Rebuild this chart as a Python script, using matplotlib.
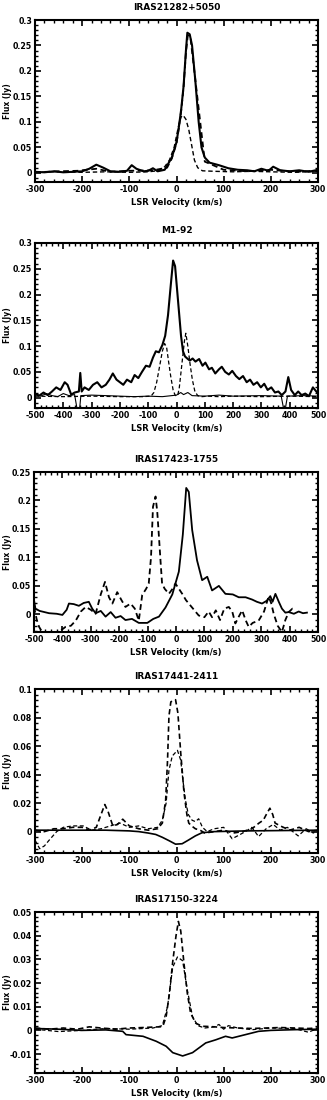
import numpy as np
import matplotlib
matplotlib.use("Agg")
import matplotlib.pyplot as plt
from matplotlib.ticker import AutoMinorLocator, FuncFormatter

plt.rcParams['axes.unicode_minus'] = False
plt.rcParams['font.family'] = 'DejaVu Sans'
plt.rcParams['font.weight'] = 'bold'

# ---- IRAS21282+5050 ----
p1_v_a = [-300, -280, -260, -240, -220, -200, -185, -170, -155, -140, -120, -105, -95, -85, -70, -60,
          -50, -40, -25, -10, -5, 0, 5, 10, 15, 20, 23, 28, 33, 40, 47, 53, 60, 70, 90, 110, 130, 150,
          165, 180, 195, 205, 220, 240, 260, 280, 300]
p1_f_a = [0.002, 0.001, 0.003, 0.001, 0.002, 0.003, 0.008, 0.016, 0.01, 0.003, 0.002, 0.004, 0.015,
          0.008, 0.003, 0.004, 0.009, 0.003, 0.006, 0.03, 0.045, 0.06, 0.09, 0.125, 0.17, 0.24, 0.275,
          0.272, 0.25, 0.18, 0.1, 0.05, 0.03, 0.02, 0.015, 0.009, 0.006, 0.005, 0.003, 0.008, 0.004,
          0.012, 0.005, 0.003, 0.005, 0.002, 0.006]
p1_v_b = [-300, -250, -210, -170, -140, -100, -50, -20, -10, -5, 0, 5, 10, 15, 20, 24, 30, 60, 100,
          150, 200, 250, 290, 300]
p1_f_b = [0.001, 0.003, 0.004, 0.008, 0.002, 0.004, 0.005, 0.01, 0.028, 0.043, 0.058, 0.088, 0.122,
          0.168, 0.236, 0.27, 0.262, 0.022, 0.006, 0.003, 0.006, 0.002, 0.004, 0.003]
p1_v_c = [-300, -250, -200, -150, -100, -60, -40, -25, -15, -5, 5, 10, 14, 20, 26, 32, 38, 45, 55,
          80, 120, 160, 200, 250, 300]
p1_f_c = [0.001, 0.002, 0.001, 0.002, 0.001, 0.002, 0.004, 0.012, 0.025, 0.05, 0.095, 0.11, 0.113,
          0.105, 0.085, 0.055, 0.025, 0.01, 0.004, 0.003, 0.002, 0.003, 0.002, 0.001, 0.003]

# ---- M1-92 ----
p2_v_a = [-500, -485, -470, -455, -440, -425, -410, -395, -385, -372, -360, -345, -340, -335, -325,
          -310, -295, -280, -265, -250, -237, -225, -212, -200, -188, -175, -160, -148, -135, -122,
          -108, -95, -83, -73, -62, -50, -40, -30, -20, -12, -5, 2, 9, 16, 23, 30, 38, 47, 57, 67, 80,
          92, 102, 115, 125, 137, 150, 160, 172, 185, 197, 210, 222, 235, 248, 260, 272, 285, 298,
          310, 322, 335, 348, 360, 372, 385, 395, 405, 418, 430, 442, 455, 468, 482, 500]
p2_f_a = [0.008, 0.004, 0.01, 0.005, 0.012, 0.02, 0.015, 0.03, 0.025, 0.006, 0.01, 0.012, 0.048,
          0.012, 0.02, 0.015, 0.025, 0.03, 0.02, 0.025, 0.035, 0.047, 0.035, 0.03, 0.025, 0.035, 0.03,
          0.044, 0.038, 0.05, 0.062, 0.06, 0.078, 0.09, 0.088, 0.102, 0.12, 0.16, 0.22, 0.266, 0.255,
          0.21, 0.165, 0.12, 0.09, 0.08, 0.076, 0.072, 0.076, 0.07, 0.075, 0.062, 0.068, 0.055, 0.058,
          0.047, 0.055, 0.06, 0.05, 0.045, 0.052, 0.042, 0.036, 0.042, 0.03, 0.035, 0.025, 0.03, 0.02,
          0.027, 0.015, 0.02, 0.01, 0.012, 0.005, 0.012, 0.04, 0.015, 0.005, 0.012, 0.005, 0.008,
          0.003, 0.02, 0.008]
p2_v_b = [-500, -400, -300, -200, -120, -90, -80, -70, -60, -50, -42, -35, -28, -20, -12, -5, 0, 5,
          10, 20, 28, 33, 40, 48, 56, 65, 75, 90, 110, 150, 200, 300, 400, 500]
p2_f_b = [0.003, 0.002, 0.003, 0.002, 0.002, 0.003, 0.01, 0.03, 0.06, 0.09, 0.105, 0.098, 0.07, 0.04,
          0.015, 0.005, 0.003, 0.006, 0.02, 0.07, 0.11, 0.125, 0.1, 0.065, 0.035, 0.012, 0.004, 0.002,
          0.003, 0.002, 0.003, 0.002, 0.003, 0.002]
p2_v_c = [-500, -480, -460, -440, -420, -400, -380, -360, -352, -342, -338, -300, -250, -200, -150,
          -100, -50, 0, 15, 25, 40, 55, 100, 150, 200, 300, 370, 378, 385, 392, 450, 500]
p2_f_c = [0.006, 0.003, 0.008, 0.004, 0.002, 0.008, 0.004, 0.006, -0.02, -0.02, 0.004, 0.005, 0.004,
          0.003, 0.002, 0.003, 0.002, 0.005, 0.01, 0.006, 0.01, 0.004, 0.003, 0.005, 0.003, 0.004,
          0.003, -0.02, -0.02, 0.003, 0.004, 0.003]

# ---- IRAS17423-1755 ----
p3_v_a = [-500, -495, -480, -447, -420, -400, -385, -377, -360, -342, -325, -307, -295, -283, -265,
          -248, -230, -213, -195, -178, -155, -131, -101, -80, -60, -37, -13, 10, 24, 36, 45, 57, 74,
          92, 110, 127, 151, 174, 200, 221, 245, 268, 285, 303, 320, 332, 340, 350, 362, 373, 385,
          397, 415, 432, 447, 461]
p3_f_a = [0.025, 0.01, 0.006, 0.002, 0.001, -0.001, 0.008, 0.019, 0.018, 0.015, 0.02, 0.022, 0.01,
          0.002, 0.006, -0.004, 0.004, -0.006, -0.003, -0.01, -0.008, -0.015, -0.015, -0.008, -0.004,
          0.012, 0.035, 0.075, 0.14, 0.222, 0.215, 0.148, 0.095, 0.06, 0.066, 0.042, 0.05, 0.036,
          0.035, 0.03, 0.03, 0.026, 0.022, 0.019, 0.024, 0.032, 0.022, 0.036, 0.022, 0.01, 0.003,
          0.004, 0.001, 0.005, 0.002, 0.003]
p3_v_b = [-500, -490, -482, -470, -450, -430, -410, -389, -370, -353, -335, -318, -300, -283, -265,
          -250, -236, -224, -207, -192, -178, -160, -145, -131, -119, -105, -96, -88, -81, -72, -66,
          -60, -54, -49, -40, -25, -12, -2, 10, 22, 35, 45, 60, 80, 100, 115, 127, 140, 155, 170, 186,
          198, 209, 220, 233, 245, 256, 270, 291, 310, 326, 335, 344, 358, 373, 385, 397, 410, 420]
p3_f_b = [0.013, -0.01, -0.022, -0.032, -0.035, -0.033, -0.03, -0.022, -0.02, -0.011, 0.005, 0.013,
          0.008, 0.001, 0.035, 0.057, 0.03, 0.019, 0.039, 0.025, 0.013, 0.019, 0.01, -0.011, 0.034,
          0.045, 0.054, 0.1, 0.189, 0.207, 0.18, 0.136, 0.09, 0.054, 0.045, 0.036, 0.045, 0.054, 0.045,
          0.036, 0.025, 0.019, 0.01, -0.002, -0.005, 0.005, -0.005, 0.007, -0.01, 0.01, 0.013, 0.005,
          -0.016, -0.005, 0.007, -0.01, -0.022, -0.015, -0.011, 0.005, 0.031, 0.02, 0.001, -0.02,
          -0.031, -0.01, 0.004, 0.01, 0.007]

# ---- IRAS17441-2411 ----
p4_v_a = [-300, -280, -260, -240, -220, -200, -185, -170, -160, -152, -145, -135, -125, -114, -100,
          -80, -60, -40, -30, -23, -19, -16, -12, -6, -2, 3, 9, 16, 22, 26, 32, 40, 50, 60, 80, 100,
          120, 140, 160, 175, 184, 192, 198, 204, 209, 220, 240, 260, 280, 300]
p4_f_a = [0.001, 0.0, 0.002, 0.002, 0.003, 0.003, 0.001, 0.003, 0.012, 0.019, 0.014, 0.004, 0.005,
          0.0087, 0.004, 0.002, 0.001, 0.002, 0.006, 0.022, 0.05, 0.081, 0.091, 0.092, 0.0925, 0.083,
          0.055, 0.027, 0.012, 0.006, 0.004, 0.002, 0.001, -0.001, 0.0, 0.001, -0.001, 0.0, 0.002,
          0.006, 0.008, 0.013, 0.0164, 0.012, 0.006, 0.004, 0.001, 0.003, 0.0, 0.001]
p4_v_b = [-300, -290, -280, -270, -254, -240, -220, -198, -180, -160, -140, -120, -100, -80, -60,
          -40, -30, -22, -16, -9, 2, 9, 14, 19, 25, 33, 40, 47, 55, 65, 80, 100, 118, 135, 146, 160,
          174, 190, 205, 220, 235, 258, 275, 290, 300]
p4_f_b = [-0.006, -0.012, -0.01, -0.006, 0.0, 0.003, 0.004, 0.004, 0.001, 0.002, 0.004, 0.006,
          0.003, 0.004, 0.002, 0.003, 0.008, 0.02, 0.043, 0.053, 0.057, 0.05, 0.035, 0.022, 0.012,
          0.008, 0.007, 0.009, 0.003, 0.0, 0.002, 0.003, -0.005, -0.002, 0.0, 0.003, -0.0035, 0.002,
          0.005, 0.001, 0.003, -0.003, 0.002, -0.001, 0.001]
p4_v_c = [-300, -200, -150, -100, -80, -60, -44, -30, -15, -2, 12, 25, 40, 54, 80, 150, 300]
p4_f_c = [0.001, 0.001, 0.001, 0.0005, 0.0, -0.001, -0.002, -0.004, -0.0065, -0.0088, -0.0085,
          -0.006, -0.003, -0.0008, 0.0, 0.0005, 0.001]

# ---- IRAS17150-3224 ----
p5_v_a = [-300, -270, -240, -210, -185, -160, -130, -100, -70, -50, -35, -29, -22, -15, -8, -1, 4, 9,
          16, 23, 30, 41, 55, 62, 80, 100, 130, 160, 190, 220, 250, 280, 300]
p5_f_a = [0.001, 0.0005, 0.001, 0.0005, 0.0015, 0.001, 0.0005, 0.001, 0.0012, 0.0014, 0.0015,
          0.0017, 0.0058, 0.0156, 0.029, 0.04, 0.046, 0.042, 0.028, 0.0156, 0.0072, 0.003, 0.0017,
          0.0017, 0.0015, 0.0012, 0.001, 0.0008, 0.001, 0.0012, 0.001, 0.0008, 0.001]
p5_v_b = [-300, -250, -200, -150, -100, -50, -30, -19, -8, 2, 13, 23, 34, 45, 60, 80, 90, 100, 110,
          130, 160, 200, 250, 280, 300]
p5_f_b = [0.0005, -0.0005, 0.0, 0.0008, 0.0005, 0.001, 0.002, 0.01, 0.0267, 0.031, 0.0294, 0.017,
          0.0058, 0.002, 0.001, 0.0015, 0.0025, 0.0005, 0.002, 0.001, 0.0003, 0.001, 0.0008, -0.0008,
          0.001]
p5_v_c = [-300, -250, -200, -150, -114, -107, -71, -43, -22, -8, 13, 34, 62, 83, 104, 118, 146, 174,
          200, 250, 300]
p5_f_c = [0.0008, 0.0005, 0.0, 0.0002, -0.0004, -0.0018, -0.0025, -0.0046, -0.0067, -0.0094, -0.0108,
          -0.0094, -0.0053, -0.004, -0.0025, -0.0032, -0.0018, -0.0004, 0.0, 0.0003, 0.0005]

titles = ['IRAS21282+5050', 'M1-92', 'IRAS17423-1755', 'IRAS17441-2411', 'IRAS17150-3224']
xlims = [(-300, 300), (-500, 500), (-500, 500), (-300, 300), (-300, 300)]
ylims = [(-0.018, 0.3), (-0.02, 0.3), (-0.031, 0.25), (-0.015, 0.1), (-0.018, 0.05)]
ytick_start = [0, 0, 0, 0, -0.01]
ysteps = [0.05, 0.05, 0.05, 0.02, 0.01]

# axes boxes in pixels: left, top, right, bottom
boxes = [(35, 20, 318, 182), (35, 243, 318, 408), (34, 472, 318, 632),
         (35, 689, 318, 853), (35, 912, 318, 1073)]

W, H = 327, 1100
fig = plt.figure(figsize=(W / 100, H / 100), dpi=100)

dash = (0, (3.2, 2.0))
panels = [
    [(p1_v_a, p1_f_a, '-', 1.5), (p1_v_b, p1_f_b, dash, 1.3), (p1_v_c, p1_f_c, dash, 1.0)],
    [(p2_v_c, p2_f_c, '-', 0.8), (p2_v_b, p2_f_b, dash, 0.9), (p2_v_a, p2_f_a, '-', 1.5)],
    [(p3_v_a, p3_f_a, '-', 1.3), (p3_v_b, p3_f_b, dash, 1.3)],
    [(p4_v_c, p4_f_c, '-', 1.2), (p4_v_b, p4_f_b, dash, 0.9), (p4_v_a, p4_f_a, dash, 1.2)],
    [(p5_v_c, p5_f_c, '-', 1.2), (p5_v_b, p5_f_b, dash, 0.9), (p5_v_a, p5_f_a, dash, 1.2)],
]


def fmt(val, pos):
    s = ('%.3f' % val).rstrip('0').rstrip('.')
    if s in ('-0', ''):
        s = '0'
    return s


for i in range(5):
    l, t, r, b = boxes[i]
    ax = fig.add_axes([l / W, 1 - b / H, (r - l) / W, (b - t) / H])
    for v, f, ls, lw in panels[i]:
        ax.plot(v, f, color='black', linestyle=ls, linewidth=lw)
    ax.set_xlim(xlims[i])
    ax.set_ylim(ylims[i])
    ax.set_xticks(np.arange(xlims[i][0], xlims[i][1] + 1, 100))
    ax.set_yticks(np.arange(ytick_start[i], ylims[i][1] + 1e-9, ysteps[i]))
    ax.yaxis.set_major_formatter(FuncFormatter(fmt))
    ax.xaxis.set_minor_locator(AutoMinorLocator(5))
    ax.yaxis.set_minor_locator(AutoMinorLocator(5))
    ax.tick_params(which='both', direction='in', top=True, right=True, labelsize=5.7, pad=2)
    ax.tick_params(which='major', length=4, width=1.2)
    ax.tick_params(which='minor', length=2, width=1.0)
    for sp in ax.spines.values():
        sp.set_linewidth(1.5)
    ax.set_title(titles[i], fontsize=6.5, fontweight='bold', pad=7)
    ax.set_xlabel('LSR Velocity (km/s)', fontsize=6, fontweight='bold', labelpad=3)
    ax.set_ylabel('Flux (Jy)', fontsize=5.5, fontweight='bold', va='center')
    ax.yaxis.set_label_coords(-(l - 8) / (r - l), 0.5)

plt.savefig('out.png', dpi=100)
